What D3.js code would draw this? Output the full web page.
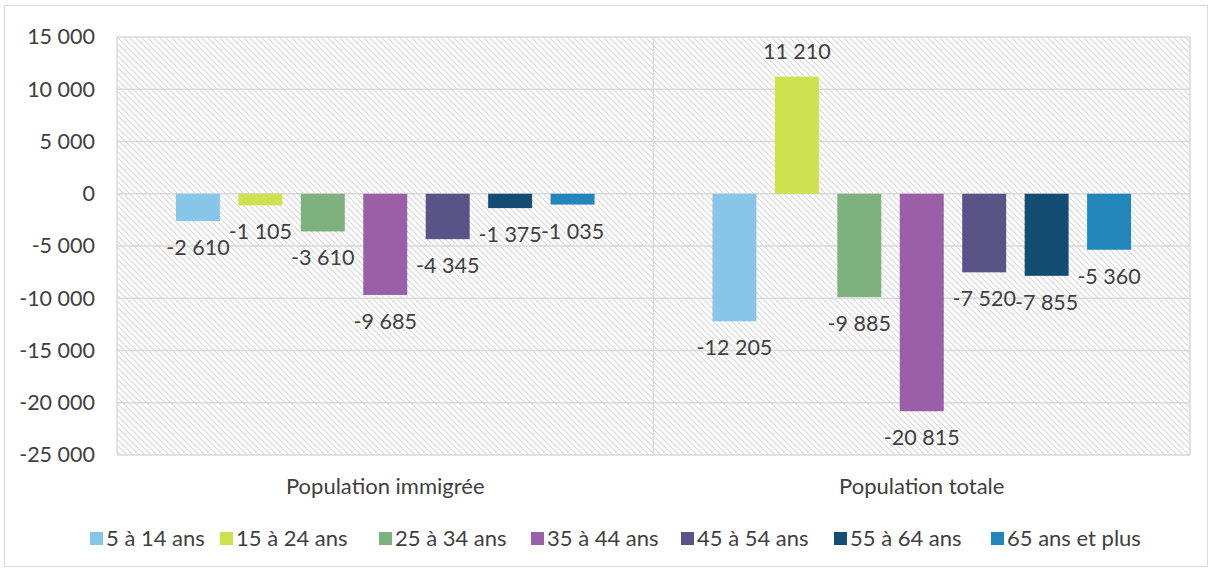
<!DOCTYPE html>
<html>
<head>
<meta charset="utf-8">
<script src="https://cdn.jsdelivr.net/npm/d3@7"></script>
<style>
  body { margin: 0; background: #fff; }
  text { font-family: Lato, "Open Sans", sans-serif; fill: #404040; }
</style>
</head>
<body>
<div id="vis-container"></div>
<script>
//width and height
var w = 1211;
var h = 571;
var margin = { top: 37, right: 21, bottom: 116, left: 117 };

// data
var categories = ["Population immigrée", "Population totale"];
var series = ["5 à 14 ans", "15 à 24 ans", "25 à 34 ans", "35 à 44 ans", "45 à 54 ans", "55 à 64 ans", "65 ans et plus"];
var immigree = [-2610, -1105, -3610, -9685, -4345, -1375, -1035];
var totale = [-12205, 11210, -9885, -20815, -7520, -7855, -5360];
var yTicks = [15000, 10000, 5000, 0, -5000, -10000, -15000, -20000, -25000];
var colors = ["#87c6e8", "#cde24e", "#7db17d", "#9b5fa8", "#5a5387", "#134d73", "#2286ba"];

var values = [immigree, totale];

var fmt = function (v) {
    var s = d3.format(",")(Math.abs(v)).replace(/,/g, " ");
    return (v < 0 ? "-" : "") + s;
};

var svg = d3.select("#vis-container")
    .append("svg")
    .attr("width", w)
    .attr("height", h);

// hatch pattern
var defs = svg.append("defs");
var pat = defs.append("pattern")
    .attr("id", "hatch")
    .attr("patternUnits", "userSpaceOnUse")
    .attr("width", 6)
    .attr("height", 6);
pat.append("rect").attr("width", 6).attr("height", 6).attr("fill", "#fff");
pat.append("path")
    .attr("d", "M-1,-1 L7,7 M-1,5 L1,7 M5,-1 L7,1")
    .attr("stroke", "#d9d9d9")
    .attr("stroke-width", 1.2);

// chart border
svg.append("rect")
    .attr("x", 4.5).attr("y", 5.5)
    .attr("width", w - 8).attr("height", h - 10)
    .attr("fill", "#fff")
    .attr("stroke", "#d9d9d9");

var iw = w - margin.left - margin.right;
var ih = h - margin.top - margin.bottom;

var g = svg.append("g").attr("transform", "translate(" + margin.left + "," + margin.top + ")");

//scale function
var x0 = d3.scaleBand().domain(categories).range([0, iw]);
var x1 = d3.scaleBand().domain(series).range([0, x0.bandwidth()])
    .paddingInner(0.296).paddingOuter(0.944);
var y = d3.scaleLinear().domain([-25000, 15000]).range([ih, 0]);

// plot background
g.append("rect")
    .attr("width", iw).attr("height", ih)
    .attr("fill", "url(#hatch)");

// gridlines
g.selectAll(".grid")
    .data(yTicks)
    .enter().append("line")
    .attr("x1", 0).attr("x2", iw)
    .attr("y1", function (d) { return y(d); })
    .attr("y2", function (d) { return y(d); })
    .attr("stroke", "#d9d9d9")
    .attr("stroke-width", 1.5);

// vertical category lines
g.selectAll(".vline")
    .data([0, iw / 2, iw])
    .enter().append("line")
    .attr("x1", function (d) { return d; })
    .attr("x2", function (d) { return d; })
    .attr("y1", 0).attr("y2", ih)
    .attr("stroke", "#d9d9d9")
    .attr("stroke-width", 1.5);

// y axis
var yAxis = d3.axisLeft(y).tickValues(yTicks).tickSize(0).tickPadding(22).tickFormat(fmt);
var ya = g.append("g").call(yAxis);
ya.select(".domain").remove();
ya.selectAll("text").style("font-size", "21.5px").attr("fill", "#404040");

// bars
var groups = g.selectAll(".cat")
    .data(categories)
    .enter().append("g")
    .attr("transform", function (d) { return "translate(" + x0(d) + ",0)"; });

groups.each(function (c, ci) {
    var gg = d3.select(this);
    var vals = values[ci];
    gg.selectAll("rect")
        .data(vals)
        .enter().append("rect")
        .attr("x", function (d, i) { return x1(series[i]); })
        .attr("width", x1.bandwidth())
        .attr("y", function (d) { return y(Math.max(0, d)); })
        .attr("height", function (d) { return Math.abs(y(d) - y(0)); })
        .attr("fill", function (d, i) { return colors[i]; });

    gg.selectAll("text")
        .data(vals)
        .enter().append("text")
        .attr("x", function (d, i) { return x1(series[i]) + x1.bandwidth() / 2; })
        .attr("y", function (d) { return d < 0 ? y(d) + 34 : y(d) - 18; })
        .attr("text-anchor", "middle")
        .style("font-size", "21.5px")
        .text(fmt);
});

// category labels
g.selectAll(".catlabel")
    .data(categories)
    .enter().append("text")
    .attr("x", function (d) { return x0(d) + x0.bandwidth() / 2; })
    .attr("y", ih + 39)
    .attr("text-anchor", "middle")
    .style("font-size", "22px")
    .text(function (d) { return d; });

// legend
var legendX = [90, 220, 379, 531, 681, 834, 991];
var legend = svg.selectAll(".legend")
    .data(series)
    .enter().append("g")
    .attr("transform", function (d, i) { return "translate(" + legendX[i] + ",532)"; });

legend.append("rect")
    .attr("width", 13).attr("height", 13)
    .attr("fill", function (d, i) { return colors[i]; });

legend.append("text")
    .attr("x", 16)
    .attr("y", 13.5)
    .style("font-size", "22px")
    .text(function (d) { return d; });
</script>
</body>
</html>
